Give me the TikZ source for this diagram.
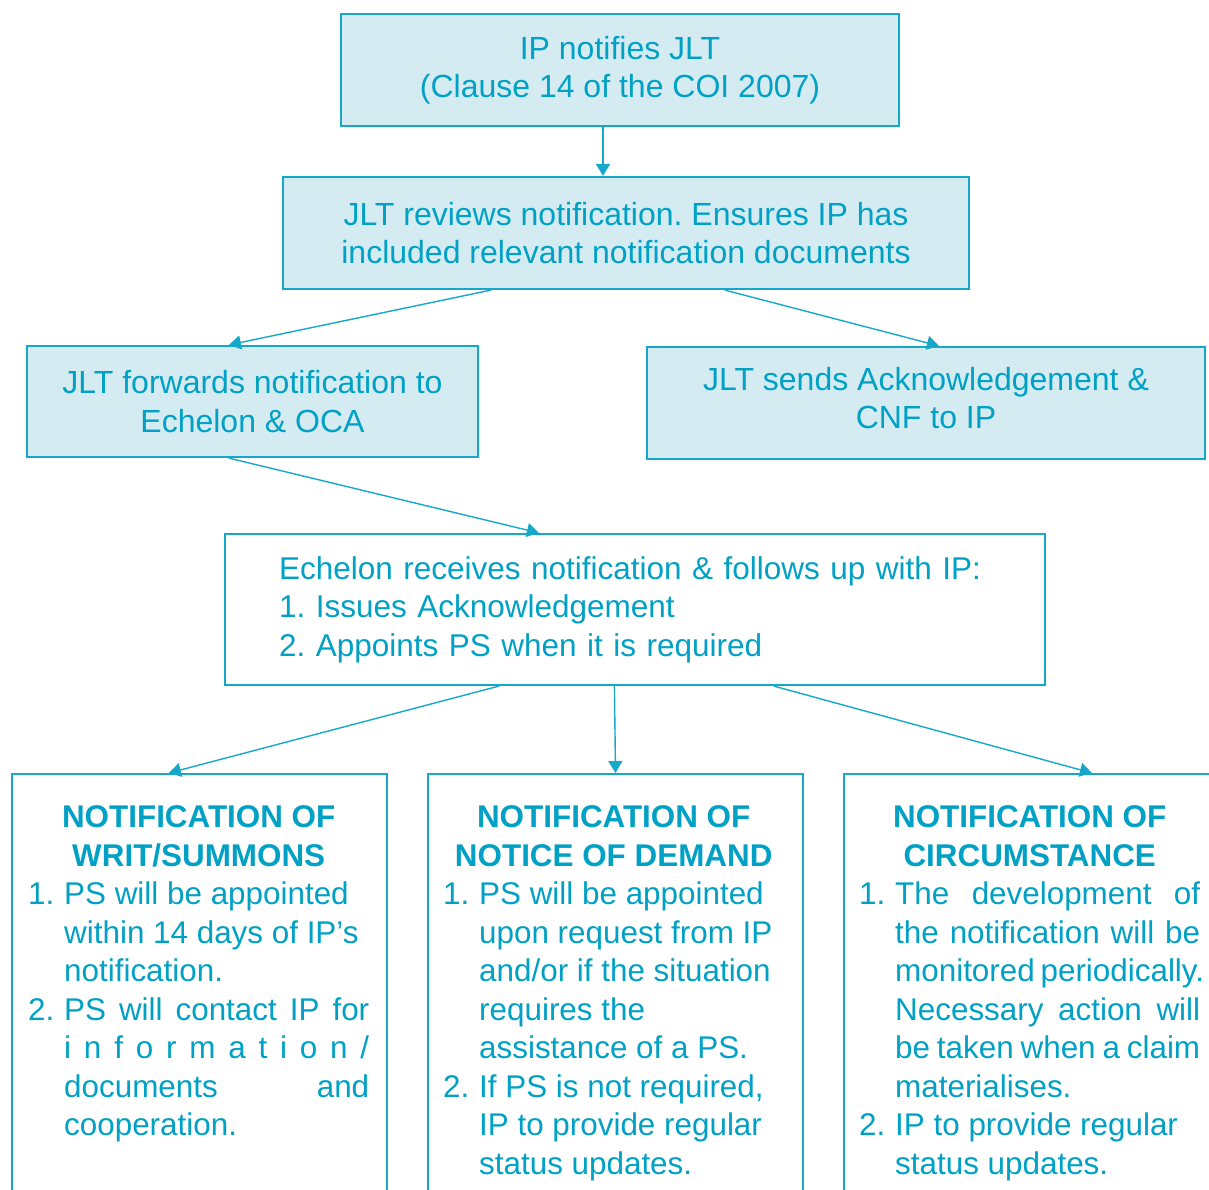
\documentclass[tikz,border=0pt]{standalone}
\usepackage{fontspec}
\setmainfont{Liberation Sans}
\usetikzlibrary{arrows.meta}
\definecolor{tc}{RGB}{0,161,197}
\definecolor{lc}{RGB}{22,168,200}
\definecolor{fc}{RGB}{212,235,242}
\newcommand\itemL[2]{\makebox[36pt][l]{#1}\makebox[305pt][l]{#2}}
\newcommand\itemS[2]{\makebox[36pt][l]{#1}\makebox[305pt][s]{#2}}
\newcommand\headC[1]{\makebox[341pt][c]{\bfseries #1}}
\frenchspacing
\begin{document}
\begin{tikzpicture}[x=1pt,y=-1pt,
  box/.style={draw=lc, line width=2.2pt, fill=fc, text=tc, align=center, inner sep=0pt,
    font=\frenchspacing\fontsize{32}{38.5}\selectfont},
  wbox/.style={draw=lc, line width=2.2pt, fill=white, inner sep=0pt},
  txt/.style={text=tc, align=left, inner sep=0pt, anchor=north west,
    font=\frenchspacing\fontsize{31.4}{38.5}\selectfont},
  arr/.style={draw=lc, line width=1.4pt, -{Triangle[length=12pt,width=14pt]}}]
\useasboundingbox (0,0) rectangle (1209,1189);
\clip (0,0) rectangle (1209,1189);
\node[box, minimum width=558pt, minimum height=112pt] (b1) at (620,70)
  {IP notifies JLT\\(Clause 14 of the COI 2007)};
\node[box, minimum width=686pt, minimum height=112pt] (b2) at (626,233)
  {JLT reviews notification. Ensures IP has\\included relevant notification documents};
\node[box, minimum width=451pt, minimum height=111pt] (b3) at (252.5,401.5)
  {JLT forwards notification to\\Echelon \& OCA};
\node[box, minimum width=558pt, minimum height=112pt] (b4) at (926,403)
  {JLT sends Acknowledgement \&\\CNF to IP\rule[-10pt]{0pt}{0pt}};
\node[box, fill=white, align=left, text width=712pt, inner xsep=54pt, minimum height=151pt,
  font=\frenchspacing\fontsize{31.5}{38.5}\selectfont] (b5) at (635,609.5)
  {Echelon receives notification \& follows up with IP:\\1. Issues Acknowledgement\\2. Appoints PS when it is required};
\node[wbox, minimum width=375pt, minimum height=440pt, anchor=north] (b6) at (199.5,773) {};
\node[wbox, minimum width=375pt, minimum height=440pt, anchor=north] (b7) at (615.5,773) {};
\node[wbox, minimum width=375pt, minimum height=440pt, anchor=north] (b8) at (1031.5,773) {};
\node[txt] (t6) at (28,805.5) {\headC{NOTIFICATION OF}\\\headC{WRIT/SUMMONS}\\
  \itemL{1.}{PS will be appointed}\\
  \itemL{}{within 14 days of IP’s}\\
  \itemL{}{notification.}\\
  \itemS{2.}{PS will contact IP for}\\
  \itemS{}{i n f o r m a t i o n /}\\
  \itemS{}{documents and}\\
  \itemL{}{cooperation.}};
\node[txt] (t7) at (443,805.5) {\headC{NOTIFICATION OF}\\\headC{NOTICE OF DEMAND}\\
  \itemL{1.}{PS will be appointed}\\
  \itemL{}{upon request from IP}\\
  \itemL{}{and/or if the situation}\\
  \itemL{}{requires the}\\
  \itemL{}{assistance of a PS.}\\
  \itemL{2.}{If PS is not required,}\\
  \itemL{}{IP to provide regular}\\
  \itemL{}{status updates.}};
\node[txt] (t8) at (859,805.5) {\headC{NOTIFICATION OF}\\\headC{CIRCUMSTANCE}\\
  \itemS{1.}{The development of}\\
  \itemS{}{the notification will be}\\
  \itemS{}{monitored periodically.}\\
  \itemS{}{Necessary action will}\\
  \itemS{}{be taken when a claim}\\
  \itemL{}{materialises.}\\
  \itemL{2.}{IP to provide regular}\\
  \itemL{}{status updates.}};
\draw[arr] ([xshift=-17pt]b1.south) -- ([xshift=-23pt]b2.north);
\draw[arr] ([xshift=209pt]b2.south west) -- ([xshift=203pt]b3.north west);
\draw[arr] ([xshift=443pt]b2.south west) -- ([xshift=293pt]b4.north west);
\draw[arr] ([xshift=203pt]b3.south west) -- ([xshift=315pt]b5.north west);
\draw[arr] ([xshift=275pt]b5.south west) -- ([xshift=158pt]b6.north west);
\draw[arr] ([xshift=390.5pt]b5.south west) -- (b7.north);
\draw[arr] ([xshift=550pt]b5.south west) -- ([xshift=249pt]b8.north west);
\end{tikzpicture}
\end{document}
